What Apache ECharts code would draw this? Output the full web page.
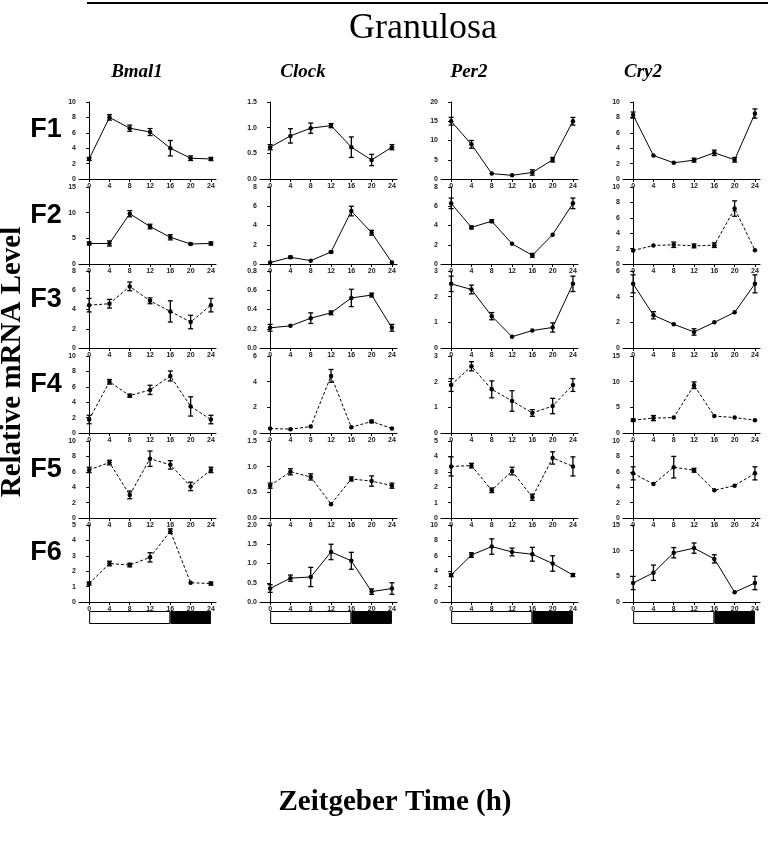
<!DOCTYPE html>
<html><head><meta charset="utf-8">
<script src="https://cdn.jsdelivr.net/npm/echarts@6/dist/echarts.min.js"></script>
<style>html,body{margin:0;padding:0;background:#fff}#c{width:768px;height:844px}</style>
</head><body><div id="c"></div>
<script>
// ---------- data ----------
const zt = [0, 4, 8, 12, 16, 20, 24];
const genes = ['Bmal1', 'Clock', 'Per2', 'Cry2'];
const rowLabels = ['F1', 'F2', 'F3', 'F4', 'F5', 'F6'];

const bmal1Mean = [
  [2.6, 8.0, 6.6, 6.1, 4.0, 2.7, 2.6],
  [4.0, 4.0, 9.8, 7.3, 5.2, 3.9, 4.0],
  [4.45, 4.6, 6.4, 4.9, 3.8, 2.7, 4.45],
  [1.75, 6.65, 4.85, 5.6, 7.4, 3.45, 1.75],
  [6.25, 7.2, 3.0, 7.7, 6.9, 4.1, 6.25],
  [1.2, 2.5, 2.4, 2.9, 4.6, 1.25, 1.2]
];
const bmal1Err = [
  [0.2, 0.35, 0.4, 0.45, 1.0, 0.3, 0.2],
  [0.3, 0.5, 0.6, 0.45, 0.5, 0.15, 0.3],
  [0.7, 0.45, 0.45, 0.3, 1.1, 0.7, 0.7],
  [0.55, 0.3, 0.2, 0.6, 0.65, 1.25, 0.55],
  [0.35, 0.3, 0.5, 1.0, 0.55, 0.55, 0.35],
  [0.1, 0.15, 0.12, 0.3, 0.15, 0, 0.1]
];
const clockMean = [
  [0.62, 0.84, 0.99, 1.04, 0.62, 0.37, 0.62],
  [0.15, 0.7, 0.35, 1.25, 5.5, 3.25, 0.15],
  [0.21, 0.23, 0.31, 0.365, 0.52, 0.55, 0.21],
  [0.35, 0.3, 0.5, 4.45, 0.45, 0.9, 0.35],
  [0.63, 0.9, 0.8, 0.27, 0.76, 0.72, 0.63],
  [0.35, 0.62, 0.65, 1.3, 1.07, 0.27, 0.35]
];
const clockErr = [
  [0.05, 0.14, 0.1, 0.04, 0.2, 0.11, 0.05],
  [0, 0.12, 0, 0.08, 0.5, 0.25, 0],
  [0.035, 0, 0.055, 0.02, 0.09, 0.02, 0.035],
  [0, 0, 0, 0.5, 0, 0.1, 0],
  [0.05, 0.06, 0.06, 0, 0.04, 0.1, 0.05],
  [0.1, 0.08, 0.25, 0.2, 0.22, 0.07, 0.15]
];
const per2Mean = [
  [15.0, 9.0, 1.4, 0.95, 1.7, 5.0, 15.0],
  [6.3, 3.8, 4.45, 2.1, 0.9, 3.05, 6.3],
  [2.5, 2.28, 1.24, 0.44, 0.68, 0.8, 2.5],
  [1.87, 2.6, 1.7, 1.25, 0.78, 1.05, 1.87],
  [3.35, 3.4, 1.8, 3.05, 1.35, 3.9, 3.35],
  [3.5, 6.1, 7.2, 6.5, 6.2, 5.0, 3.5]
];
const per2Err = [
  [1.0, 1.0, 0, 0, 0.7, 0.6, 1.0],
  [0.55, 0.15, 0.15, 0, 0.2, 0, 0.55],
  [0.3, 0.17, 0.14, 0, 0, 0.18, 0.3],
  [0.25, 0.18, 0.33, 0.4, 0.13, 0.3, 0.25],
  [0.62, 0.15, 0.15, 0.25, 0.2, 0.4, 0.62],
  [0.2, 0.3, 1.0, 0.5, 0.9, 1.0, 0.2]
];
const cry2Mean = [
  [8.3, 3.05, 2.1, 2.45, 3.4, 2.5, 8.5],
  [1.75, 2.4, 2.5, 2.35, 2.45, 7.2, 1.8],
  [5.0, 2.55, 1.85, 1.25, 2.0, 2.78, 5.0],
  [2.5, 2.9, 3.0, 9.3, 3.3, 3.0, 2.5],
  [5.8, 4.4, 6.6, 6.2, 3.6, 4.2, 5.8],
  [3.7, 5.7, 9.6, 10.5, 8.4, 1.9, 3.7]
];
const cry2Err = [
  [0.4, 0, 0, 0.25, 0.35, 0.3, 0.6],
  [0, 0, 0.35, 0.25, 0.3, 1.0, 0],
  [0.7, 0.28, 0, 0.25, 0, 0, 0.7],
  [0.25, 0.5, 0, 0.65, 0, 0, 0],
  [0.85, 0, 1.4, 0.25, 0, 0, 0.85],
  [1.3, 1.5, 1.0, 1.0, 0.8, 0, 1.3]
];
// y-axis [max, tick step] per row
const bmal1Axis = [[10, 2], [15, 5], [8, 2], [10, 2], [10, 2], [5, 1]];
const clockAxis = [[1.5, 0.5], [8, 2], [0.8, 0.2], [6, 2], [1.5, 0.5], [2, 0.5]];
const per2Axis = [[20, 5], [8, 2], [3, 1], [3, 1], [5, 1], [10, 2]];
const cry2Axis = [[10, 2], [10, 2], [6, 2], [15, 5], [10, 2], [15, 5]];
// light / dark phases (hours)
const lightHours = [16];
const darkHours = [8];

// ---------- styles ----------
const dashedFlags = {
  Bmal1: [0, 0, 1, 1, 1, 1],
  Clock: [0, 0, 0, 1, 1, 0],
  Per2: [0, 0, 0, 1, 1, 0],
  Cry2: [0, 1, 0, 1, 1, 0]
};
const means = { Bmal1: bmal1Mean, Clock: clockMean, Per2: per2Mean, Cry2: cry2Mean };
const errs = { Bmal1: bmal1Err, Clock: clockErr, Per2: per2Err, Cry2: cry2Err };
const axes = { Bmal1: bmal1Axis, Clock: clockAxis, Per2: per2Axis, Cry2: cry2Axis };

const colLeft = [79, 260, 441, 623];
const plotW = 137;
const rowTop = [102, 187, 271, 356, 441, 525];
const plotH = 77;
const XMIN = -2, XMAX = 25;

const grids = [], xAxes = [], yAxes = [], series = [];
const lblFont = { fontSize: 7, fontWeight: 'bold', color: '#222', fontFamily: 'Liberation Sans, Arial, sans-serif' };

genes.forEach((g, c) => {
  rowLabels.forEach((r, ri) => {
    const idx = grids.length;
    grids.push({ left: colLeft[c], top: rowTop[ri], width: plotW, height: plotH, containLabel: false });
    xAxes.push({
      type: 'value', gridIndex: idx, min: XMIN, max: XMAX,
      axisLine: { lineStyle: { color: '#000', width: 1 } },
      axisTick: { customValues: zt, length: 3, lineStyle: { color: '#000' } },
      axisLabel: Object.assign({ customValues: zt, margin: 4 }, lblFont),
      splitLine: { show: false }
    });
    const [mx, st] = axes[g][ri];
    yAxes.push({
      type: 'value', gridIndex: idx, min: 0, max: mx, interval: st,
      axisLine: { show: true, lineStyle: { color: '#000', width: 1 } },
      axisTick: { show: true, length: 3, lineStyle: { color: '#000' } },
      axisLabel: Object.assign({ margin: 3, formatter: v => st < 1 ? v.toFixed(1) : String(v) }, lblFont),
      splitLine: { show: false }
    });
    const m = means[g][ri], e = errs[g][ri];
    series.push({
      type: 'line', xAxisIndex: idx, yAxisIndex: idx,
      data: zt.map((t, j) => [t, m[j]]),
      symbol: 'circle', symbolSize: 4.5, silent: true, animation: false,
      itemStyle: { color: '#000' },
      lineStyle: { color: '#000', width: 1, type: dashedFlags[g][ri] ? [3, 2] : 'solid' },
      z: 3
    });
    series.push({
      type: 'custom', xAxisIndex: idx, yAxisIndex: idx, animation: false, silent: true,
      data: zt.map((t, j) => [t, m[j], e[j]]),
      encode: { x: 0, y: 1 },
      z: 4,
      renderItem: (params, api) => {
        const x = api.value(0), v = api.value(1), er = api.value(2);
        if (!er) return null;
        const a = api.coord([x, v + er]), b = api.coord([x, v - er]);
        const w = 2.5;
        const st = { stroke: '#000', lineWidth: 1.3 };
        return {
          type: 'group', children: [
            { type: 'line', shape: { x1: a[0], y1: a[1], x2: b[0], y2: b[1] }, style: st },
            { type: 'line', shape: { x1: a[0] - w, y1: a[1], x2: a[0] + w, y2: a[1] }, style: st },
            { type: 'line', shape: { x1: b[0] - w, y1: b[1], x2: b[0] + w, y2: b[1] }, style: st }
          ]
        };
      }
    });
  });
});

// light/dark bars under each column
const k = plotW / (XMAX - XMIN);
genes.forEach((g, c) => {
  const idx = grids.length;
  grids.push({ left: colLeft[c] + (0 - XMIN) * k, top: 611, width: 24 * k, height: 13 });
  xAxes.push({ type: 'value', gridIndex: idx, min: 0, max: 24, show: false });
  yAxes.push({ type: 'category', gridIndex: idx, data: ['LD'], show: false });
  series.push({
    type: 'bar', xAxisIndex: idx, yAxisIndex: idx, stack: 'ld' + c, data: lightHours,
    barWidth: '100%', animation: false, silent: true,
    itemStyle: { color: '#fff', borderColor: '#000', borderWidth: 1 }
  });
  series.push({
    type: 'bar', xAxisIndex: idx, yAxisIndex: idx, stack: 'ld' + c, data: darkHours,
    barWidth: '100%', animation: false, silent: true,
    itemStyle: { color: '#000', borderColor: '#000', borderWidth: 1 }
  });
});

const serif = 'Liberation Serif, Times New Roman, serif';
const sans = 'Liberation Sans, Arial, sans-serif';
const headerX = [137, 303, 469, 643];
const rowLabelY = [130, 216, 300, 385, 470, 553];

const graphic = [
  { type: 'line', shape: { x1: 87, y1: 3, x2: 768, y2: 3 }, style: { stroke: '#000', lineWidth: 2 } },
  { type: 'text', x: 423, y: 29, style: { text: 'Granulosa', font: '36px ' + serif, fill: '#000', textAlign: 'center', textVerticalAlign: 'middle' } },
  { type: 'text', x: 13, y: 362, rotation: Math.PI / 2, style: { text: 'Relative mRNA Level', font: 'bold 29px ' + serif, fill: '#000', textAlign: 'center', textVerticalAlign: 'middle' } },
  { type: 'text', x: 395, y: 803, style: { text: 'Zeitgeber Time (h)', font: 'bold 29px ' + serif, fill: '#000', textAlign: 'center', textVerticalAlign: 'middle' } }
];
genes.forEach((g, c) => graphic.push({ type: 'text', x: headerX[c], y: 72, style: { text: g, font: 'italic bold 19px ' + serif, fill: '#000', textAlign: 'center', textVerticalAlign: 'middle' } }));
rowLabels.forEach((r, i) => graphic.push({ type: 'text', x: 46, y: rowLabelY[i], style: { text: r, font: 'bold 27px ' + sans, fill: '#000', textAlign: 'center', textVerticalAlign: 'middle' } }));

const chart = echarts.init(document.getElementById('c'), null, { renderer: 'canvas' });
chart.setOption({
  animation: false,
  grid: grids, xAxis: xAxes, yAxis: yAxes, series: series, graphic: graphic
});
</script></body></html>
